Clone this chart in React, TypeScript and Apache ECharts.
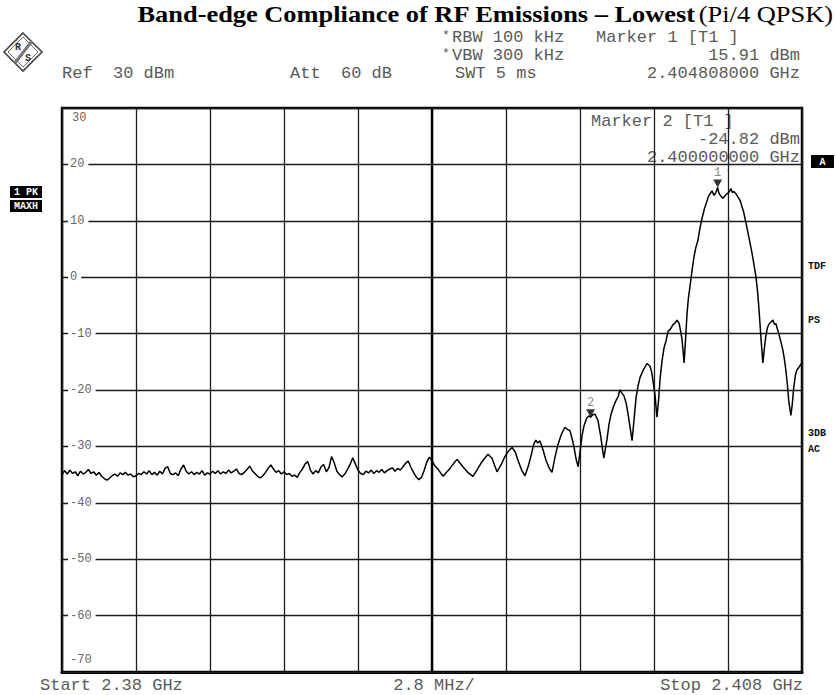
import React, { useEffect, useRef } from 'react';
import * as echarts from 'echarts';

// ---- axis set-up (spectrum analyser screen) ----
const START_MHZ = 2380;
const STOP_MHZ = 2408;
const MHZ_PER_DIV = 2.8;
const CENTER_MHZ = 2394;
const REF_LEVEL_DBM = 30;
const BOTTOM_LEVEL_DBM = -70;
const DB_PER_DIV = 10;

// ---- trace: [frequency MHz, level dBm] ----
const noiseFloorTrace: [number, number][] = [
  [2380.0, -35.0], [2380.1, -34.3], [2380.2, -34.9], [2380.3, -34.2], [2380.4, -34.8],
  [2380.5, -34.5], [2380.6, -35.2], [2380.7, -34.4], [2380.8, -34.9], [2380.9, -34.6],
  [2381.0, -34.1], [2381.1, -34.8], [2381.2, -34.5], [2381.3, -35.1], [2381.4, -34.6],
  [2381.5, -35.3], [2381.6, -35.7], [2381.7, -36.0], [2381.8, -35.6], [2381.9, -35.2],
  [2382.0, -34.9], [2382.1, -35.3], [2382.2, -34.7], [2382.3, -35.0], [2382.4, -34.6],
  [2382.5, -35.1], [2382.6, -34.9], [2382.7, -35.4], [2382.8, -35.2], [2382.9, -34.8],
  [2383.0, -35.0], [2383.1, -34.5], [2383.2, -34.9], [2383.3, -34.3], [2383.4, -35.0],
  [2383.5, -34.6], [2383.6, -35.1], [2383.7, -34.4], [2383.8, -34.9], [2383.9, -33.9],
  [2384.0, -33.6], [2384.1, -34.8], [2384.2, -35.0], [2384.3, -34.7], [2384.4, -35.2],
  [2384.5, -34.0], [2384.6, -33.3], [2384.7, -34.4], [2384.8, -34.9], [2384.9, -34.5],
  [2385.0, -35.0], [2385.1, -34.6], [2385.2, -34.9], [2385.3, -34.3], [2385.4, -35.1],
  [2385.5, -34.7], [2385.6, -34.9], [2385.7, -34.4], [2385.8, -34.8], [2385.9, -34.3],
  [2386.0, -34.9], [2386.1, -34.5], [2386.2, -34.8], [2386.3, -34.2], [2386.4, -34.7],
  [2386.5, -34.4], [2386.6, -34.0], [2386.7, -34.8], [2386.8, -35.0], [2386.9, -34.6],
  [2387.0, -34.1], [2387.1, -33.5], [2387.2, -34.3], [2387.3, -34.8], [2387.4, -35.3],
  [2387.5, -35.6], [2387.6, -35.2], [2387.7, -34.6], [2387.8, -33.9], [2387.9, -33.3],
  [2388.0, -34.0], [2388.1, -34.6], [2388.2, -34.3], [2388.3, -34.9], [2388.4, -34.5],
  [2388.5, -35.0], [2388.6, -34.8], [2388.7, -35.3], [2388.8, -35.1], [2388.9, -35.5],
  [2389.0, -34.6], [2389.1, -34.0], [2389.2, -33.1], [2389.3, -32.7], [2389.4, -34.2],
  [2389.5, -34.9], [2389.6, -34.3], [2389.7, -34.7], [2389.8, -33.6], [2389.9, -33.2],
  [2390.0, -34.5], [2390.1, -33.8], [2390.2, -31.8], [2390.3, -32.9], [2390.4, -34.4],
  [2390.5, -35.0], [2390.6, -35.4], [2390.7, -34.9], [2390.8, -34.1], [2390.9, -33.2],
  [2391.0, -32.0], [2391.1, -33.1], [2391.2, -34.2], [2391.3, -34.8], [2391.4, -35.0],
  [2391.5, -34.4], [2391.6, -34.7], [2391.7, -34.2], [2391.8, -34.8], [2391.9, -34.3],
  [2392.0, -34.6], [2392.1, -34.1], [2392.2, -34.7], [2392.3, -34.3], [2392.4, -34.0],
  [2392.5, -33.8], [2392.6, -34.4], [2392.7, -33.9], [2392.8, -34.2], [2392.9, -33.6],
  [2393.0, -33.0], [2393.1, -32.6], [2393.2, -33.7], [2393.3, -34.6], [2393.4, -35.4],
  [2393.5, -35.9], [2393.6, -35.5], [2393.7, -34.3], [2393.8, -32.8], [2393.9, -31.9],
  [2394.0, -32.5],
];

const sidelobeTrace: [number, number][] = [
  [2394.1, -33.4], [2394.25, -34.2], [2394.42, -35.3], [2394.55, -34.6], [2394.68, -33.9],
  [2394.82, -33.0], [2394.95, -32.3], [2395.05, -32.9], [2395.17, -33.6], [2395.35, -34.6],
  [2395.55, -35.3], [2395.7, -34.2], [2395.85, -33.0], [2395.98, -32.2], [2396.12, -31.4],
  [2396.27, -32.1], [2396.38, -33.5], [2396.46, -34.5], [2396.62, -33.2], [2396.76, -31.8],
  [2396.9, -30.8], [2397.03, -30.2], [2397.15, -31.0], [2397.25, -32.4], [2397.4, -34.3],
  [2397.52, -35.2], [2397.65, -33.4], [2397.75, -31.6], [2397.85, -29.6], [2397.93, -28.9],
  [2398.0, -29.4], [2398.08, -29.0], [2398.2, -30.6], [2398.31, -32.4], [2398.44, -33.9],
  [2398.54, -34.6], [2398.65, -32.0], [2398.77, -29.6], [2398.9, -27.8], [2399.03, -26.6],
  [2399.12, -27.0], [2399.22, -27.2], [2399.3, -28.6], [2399.37, -30.0], [2399.45, -32.2],
  [2399.53, -33.6], [2399.6, -31.0], [2399.68, -28.0], [2399.75, -26.4], [2399.85, -25.0],
  [2399.93, -24.6], [2400.0, -24.82], [2400.08, -24.4], [2400.17, -24.3], [2400.28, -25.4],
  [2400.39, -28.4], [2400.5, -32.1], [2400.62, -28.8], [2400.7, -26.0], [2400.77, -24.4],
  [2400.86, -23.0], [2400.96, -21.9], [2401.04, -21.2], [2401.11, -20.0], [2401.19, -20.6],
  [2401.26, -21.0], [2401.34, -22.2], [2401.41, -24.0], [2401.5, -26.8], [2401.57, -29.0],
  [2401.65, -25.0], [2401.72, -21.4], [2401.8, -19.2], [2401.87, -17.8], [2401.98, -16.6],
];

const mainLobeTrace: [number, number][] = [
  [2402.13, -15.3], [2402.25, -15.8], [2402.32, -17.0], [2402.44, -21.0], [2402.51, -24.8],
  [2402.57, -22.0], [2402.63, -18.0], [2402.7, -15.0], [2402.78, -12.5], [2402.85, -11.4],
  [2402.93, -9.6], [2403.02, -9.2], [2403.12, -8.4], [2403.2, -8.1], [2403.27, -7.6],
  [2403.35, -8.2], [2403.4, -9.4], [2403.46, -11.0], [2403.54, -15.2], [2403.6, -10.5],
  [2403.65, -6.5], [2403.7, -3.8], [2403.76, -1.7], [2403.84, 1.2], [2403.91, 3.5],
  [2403.98, 5.2], [2404.06, 6.5], [2404.14, 8.7], [2404.22, 10.5], [2404.3, 12.0],
  [2404.37, 13.0], [2404.45, 14.2], [2404.52, 14.8], [2404.6, 15.3], [2404.67, 14.5],
  [2404.74, 15.0], [2404.808, 15.91], [2404.85, 15.0], [2404.9, 14.6], [2404.96, 14.2],
  [2405.01, 14.0], [2405.08, 14.4], [2405.16, 14.8], [2405.24, 15.1], [2405.31, 15.7],
  [2405.37, 15.0], [2405.42, 15.2], [2405.5, 14.8], [2405.58, 14.2], [2405.66, 13.6],
  [2405.73, 12.5], [2405.79, 11.6], [2405.84, 10.5], [2405.9, 9.2], [2405.95, 8.0],
  [2406.02, 6.4], [2406.1, 4.5], [2406.18, 2.3], [2406.26, 0.0], [2406.32, -2.6],
  [2406.37, -5.5], [2406.41, -8.2], [2406.45, -11.0], [2406.52, -15.2], [2406.58, -12.5],
  [2406.63, -10.5], [2406.69, -9.0], [2406.75, -8.3], [2406.82, -8.0], [2406.9, -7.6],
  [2406.96, -8.4], [2407.01, -8.2], [2407.07, -9.2], [2407.12, -10.0], [2407.2, -11.4],
  [2407.27, -12.8], [2407.33, -14.4], [2407.39, -16.5], [2407.45, -19.2], [2407.5, -22.0],
  [2407.58, -24.5], [2407.63, -22.6], [2407.69, -19.5], [2407.75, -17.4], [2407.8, -16.5],
  [2407.88, -16.0], [2407.94, -15.6], [2408.0, -15.2],
];

const markerNames = ['1', '2'];
const markerFreqMHz = [2404.808, 2400.0];
const markerLevelDbm = [15.91, -24.82];

const TITLE_BOLD = 'Band-edge Compliance of RF Emissions – Lowest';
const TITLE_NORMAL = '(Pi/4 QPSK)';

const MONO = '"Liberation Mono", "DejaVu Sans Mono", monospace';
const SERIF = '"Liberation Serif", "DejaVu Serif", serif';
const GRAY = '#5a5a5a';

function monoText(text: string, x: number, y: number, align: 'left' | 'right' | 'center' = 'left', size = 17) {
  return {
    type: 'text',
    x,
    y,
    silent: true,
    style: { text, fill: GRAY, font: `${size}px ${MONO}`, lineHeight: size - 3, align, verticalAlign: 'middle' },
  };
}

function boxLabel(text: string, x: number, y: number, w: number, h: number) {
  return {
    type: 'group',
    silent: true,
    children: [
      { type: 'rect', shape: { x, y, width: w, height: h }, style: { fill: '#000' } },
      {
        type: 'text',
        x: x + w / 2,
        y: y + h / 2 + 0.5,
        style: { text, fill: '#fff', font: `bold 10px ${MONO}`, lineHeight: 10, align: 'center', verticalAlign: 'middle' },
      },
    ],
  };
}

function sideText(text: string, x: number, y: number) {
  return {
    type: 'text',
    x,
    y,
    silent: true,
    style: { text, fill: '#111', font: `bold 10px ${MONO}`, align: 'left', verticalAlign: 'middle' },
  };
}

export default function App() {
  const ref = useRef<HTMLDivElement>(null);

  useEffect(() => {
    if (!ref.current) return;
    const chart = echarts.init(ref.current, undefined, { renderer: 'svg' });
    const trace = [...noiseFloorTrace, ...sidelobeTrace, ...mainLobeTrace];
    const markers = markerNames.map((n, i) => ({ name: n, value: [markerFreqMHz[i], markerLevelDbm[i]] }));

    chart.setOption({
      animation: false,
      backgroundColor: '#fff',
      grid: {
        left: 62,
        right: 34,
        top: 108,
        bottom: 23,
        show: true,
        borderColor: '#000',
        borderWidth: 2.5,
        backgroundColor: 'transparent',
      },
      xAxis: {
        type: 'value',
        min: START_MHZ,
        max: STOP_MHZ,
        interval: MHZ_PER_DIV,
        axisLine: { show: true, onZero: false, lineStyle: { color: '#000', width: 3 } },
        axisTick: { show: false },
        axisLabel: { show: false },
        splitLine: { show: true, lineStyle: { color: '#1c1c1c', width: 1.3 } },
      },
      yAxis: {
        type: 'value',
        min: BOTTOM_LEVEL_DBM,
        max: REF_LEVEL_DBM,
        interval: DB_PER_DIV,
        axisLine: { show: false },
        axisTick: { show: false },
        splitLine: { show: true, lineStyle: { color: '#1c1c1c', width: 1.3 } },
        axisLabel: {
          inside: true,
          margin: 6,
          showMinLabel: true,
          showMaxLabel: true,
          color: '#666',
          fontFamily: MONO,
          fontSize: 12,
          formatter: (v: number) =>
            v === REF_LEVEL_DBM ? `{top|${v}}` : v === BOTTOM_LEVEL_DBM ? `{bot|${v}}` : `{n|${v}}`,
          rich: {
            n: { backgroundColor: '#fff', padding: [1, 4, 1, 2], color: '#666', fontFamily: MONO, fontSize: 12 },
            top: { padding: [20, 0, 0, 4], color: '#666', fontFamily: MONO, fontSize: 12 },
            bot: { padding: [0, 0, 24, 2], color: '#666', fontFamily: MONO, fontSize: 12 },
          },
        },
        z: 3,
      },
      series: [
        {
          type: 'line',
          data: trace,
          showSymbol: false,
          symbol: 'none',
          lineStyle: { color: '#000', width: 1.5 },
          z: 4,
          markLine: {
            silent: true,
            symbol: 'none',
            label: { show: false },
            lineStyle: { color: '#000', width: 2.4, type: 'solid' },
            data: [{ xAxis: CENTER_MHZ }],
            z: 2,
          },
        },
        {
          type: 'scatter',
          data: markers,
          symbol: 'triangle',
          symbolRotate: 180,
          symbolSize: [9, 8],
          symbolOffset: [0, -4],
          itemStyle: { color: '#000' },
          z: 5,
          label: {
            show: true,
            position: 'top',
            distance: 0,
            formatter: (p: any) => p.name,
            color: '#666',
            fontFamily: MONO,
            fontSize: 12,
          },
        },
      ],
      graphic: [
        {
          type: 'text',
          x: 833,
          y: 14,
          scaleX: 1.1,
          silent: true,
          style: {
            text: `{b|${TITLE_BOLD}} {n|${TITLE_NORMAL}}`,
            align: 'right',
            verticalAlign: 'middle',
            rich: {
              b: { font: `bold 24px ${SERIF}`, fill: '#000', lineHeight: 22 },
              n: { font: `24px ${SERIF}`, fill: '#000', lineHeight: 22 },
            },
          },
        },
        // R&S logo
        {
          type: 'group',
          silent: true,
          children: [
            { type: 'polygon', shape: { points: [[23, 33], [42, 52], [23, 71], [4, 52]] }, style: { fill: 'none', stroke: '#444', lineWidth: 1.6 } },
            { type: 'polygon', shape: { points: [[23, 37], [38, 52], [23, 67], [8, 52]] }, style: { fill: '#fff', stroke: '#666', lineWidth: 1 } },
            { type: 'line', shape: { x1: 32, y1: 41, x2: 15, y2: 63 }, style: { stroke: '#777', lineWidth: 3 } },
            { type: 'text', x: 18, y: 47, style: { text: 'R', fill: '#333', font: `bold 10px ${MONO}`, align: 'center', verticalAlign: 'middle' } },
            { type: 'text', x: 28, y: 58, style: { text: 'S', fill: '#333', font: `bold 10px ${MONO}`, align: 'center', verticalAlign: 'middle' } },
          ],
        },
        // header rows
        monoText('*', 446, 35, 'center', 13),
        monoText('RBW 100 kHz', 452, 37),
        monoText('Marker 1 [T1 ]', 596, 37),
        monoText('*', 446, 53, 'center', 13),
        monoText('VBW 300 kHz', 452, 55),
        monoText('15.91 dBm', 800, 55, 'right'),
        monoText('Ref  30 dBm', 62, 73),
        monoText('Att  60 dB', 290, 73),
        monoText('SWT 5 ms', 455, 73),
        monoText('2.404808000 GHz', 800, 73, 'right'),
        // marker 2 readout in the plot
        monoText('Marker 2 [T1 ]', 591, 121),
        monoText('-24.82 dBm', 800, 139, 'right'),
        monoText('2.400000000 GHz', 800, 157, 'right'),
        // footer
        monoText('Start 2.38 GHz', 40, 685),
        monoText('2.8 MHz/', 434, 685, 'center'),
        monoText('Stop 2.408 GHz', 803, 685, 'right'),
        // side annotations
        boxLabel('1 PK', 10, 186, 32, 12),
        boxLabel('MAXH', 10, 200, 32, 12),
        boxLabel('A', 811, 155, 23, 13),
        sideText('TDF', 808, 266),
        sideText('PS', 808, 320),
        sideText('3DB', 808, 433),
        sideText('AC', 808, 449),
      ],
    });

    return () => chart.dispose();
  }, []);

  return <div ref={ref} style={{ position: 'absolute', left: 0, top: 0, width: 836, height: 695 }} />;
}
